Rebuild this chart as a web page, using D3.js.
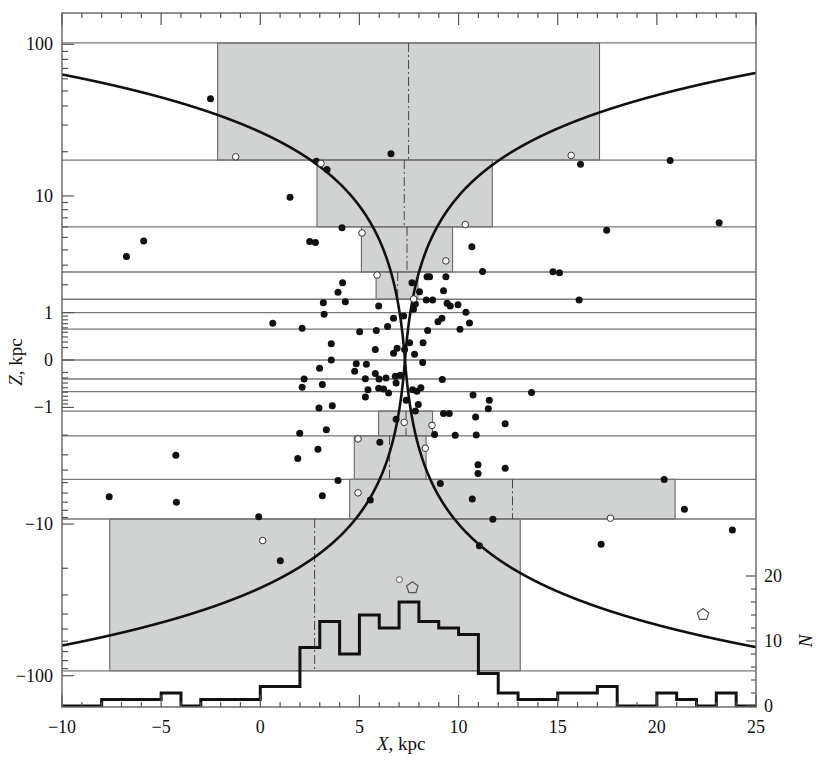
<!DOCTYPE html>
<html><head><meta charset="utf-8">
<script src="https://cdn.jsdelivr.net/npm/d3@7"></script>
<style>body{margin:0;background:#fff} svg text{font-family:"Liberation Serif","DejaVu Serif","Times New Roman",serif;fill:#111}</style>
</head><body><svg id="c" width="817" height="764" font-family="Liberation Serif, DejaVu Serif, serif"></svg>
<script>
// ---- data ----
const bandEdges = [102, 17.6, 6.0, 2.62, 1.43, 1.0, 0.57, 0, -0.32, -0.59, -1.11, -2.03, -4.72, -9.22, -93];
const grayTop    = [102, 17.6, 6.0, 2.62, -1.11, -2.03, -4.72, -9.22];
const grayBottom = [17.6, 6.0, 2.62, 1.43, -2.03, -4.72, -9.22, -93];
const grayX0     = [-2.15, 2.86, 5.10, 5.84, 5.97, 4.74, 4.51, -7.59];
const grayX1     = [17.11, 11.70, 9.70, 7.95, 8.69, 8.36, 20.92, 13.11];
const grayMid    = [7.48, 7.26, 7.40, 6.93, 7.35, 6.52, 12.72, 2.74];

const filledX = [-2.51,2.83,3.37,6.59,16.15,20.67,1.50,4.12,17.47,23.14,-5.88,-6.75,2.49,2.78,10.67,11.21,14.76,15.09,16.08,4.15,3.92,4.29,3.18,5.97,3.22,6.72,7.23,7.73,7.65,0.63,2.11,6.42,5.01,5.85,3.58,5.80,6.72,6.90,7.28,7.53,3.58,2.99,4.84,5.35,4.76,2.21,2.11,3.13,5.30,5.80,5.99,6.34,6.81,7.06,6.85,5.43,5.97,6.22,6.47,5.30,2.96,3.63,7.36,7.82,6.85,1.99,3.33,6.03,-4.26,2.91,1.89,3.92,-7.62,-4.23,3.13,5.55,-0.08,1.01,11.73,11.05,21.39,17.19,23.81,8.41,8.54,9.36,8.03,9.24,8.37,8.69,7.82,9.42,9.58,9.97,10.37,9.16,8.96,10.55,10.07,8.44,8.21,7.78,8.19,9.18,7.68,7.90,8.10,10.73,13.68,11.55,7.97,11.50,9.24,9.53,10.86,12.35,8.79,9.83,10.89,10.98,10.98,12.35,20.37,9.08,10.69];
const filledZ = [44.6,17.3,15.2,19.4,16.5,17.5,9.8,5.9,5.67,6.45,4.70,3.54,4.65,4.57,4.23,2.65,2.63,2.58,1.40,2.09,1.69,1.34,1.31,1.20,0.95,0.84,0.905,1.10,2.09,0.71,0.59,0.63,0.51,0.54,0.27,0.165,0.104,0.188,0.165,0.285,0.0,-0.127,-0.057,-0.065,-0.18,-0.32,-0.49,-0.43,-0.315,-0.22,-0.32,-0.30,-0.27,-0.25,-0.40,-0.545,-0.51,-0.53,-0.62,-0.72,-1.02,-0.95,-0.80,-1.11,-1.38,-1.92,-1.77,-2.33,-3.02,-2.68,-3.22,-4.82,-6.38,-7.01,-6.28,-6.75,-8.9,-17.8,-9.27,-14.1,-7.87,-13.8,-11.0,2.38,2.38,2.38,1.71,1.75,1.40,1.40,1.27,1.29,1.20,1.24,1.01,0.84,0.75,0.72,0.57,0.54,0.285,0.089,-0.036,-0.33,-0.545,-0.58,-0.50,-0.67,-0.61,-0.80,-0.92,-1.04,-1.19,-1.19,-1.30,-1.54,-1.97,-2.0,-1.99,-3.63,-4.25,-3.86,-4.73,-5.08,-6.64];

const openX = [-1.24,3.06,15.68,5.13,10.34,9.36,5.89,7.26,4.93,4.93,0.12,17.66,7.73,8.66,8.32];
const openZ = [18.5,16.7,18.9,5.4,6.24,3.26,2.46,-1.49,-2.17,-5.97,-13.0,-9.1,1.44,-1.60,-2.63];

const smallOpenX = [7.02];
const smallOpenZ = [-23.8];
const pentX = [7.67, 22.33];
const pentZ = [-26.9, -40.3];

const histStart = [-10,-9,-8,-7,-6,-5,-4,-3,-2,-1,0,1,2,3,4,5,6,7,8,9,10,11,12,13,14,15,16,17,18,19,20,21,22,23,24];
const histN     = [0,0,1,1,1,2,0,1,1,1,3,3,9,13,8,14,12,16,13,12,11,5,2,1,1,2,2,3,0,0,2,1,0,2,0];

// straight boundary lines Z = ±k(X - X0), given by their end points
const lineAX = [-10, 25], lineAZ = [64.0, -65.5];
const lineBX = [-10, 25], lineBZ = [-64.0, 65.5];

const xTickLabels = [-10,-5,0,5,10,15,20,25];
const zTickLabels = [100,10,1,0,-1,-10,-100];
const nTickLabels = [0,10,20];

// ---- scales ----
const L = 62, R = 756, T = 13, B = 707;
const x = d3.scaleLinear().domain([-10, 25]).range([L, R]);
const y = d3.scaleSymlog().constant(1).domain([-158.6, 158.6]).range([B, T]);
const yN = d3.scaleLinear().domain([0, 10]).range([706, 641]);

const svg = d3.select("#c");
const FONT = "Liberation Serif, DejaVu Serif, serif";
svg.append("defs").append("clipPath").attr("id","clip")
  .append("rect").attr("x",L).attr("y",T).attr("width",R-L).attr("height",B-T);
const g = svg.append("g").attr("clip-path","url(#clip)");

// gray rectangles
const grays = grayTop.map((t,i)=>({t, b:grayBottom[i], x0:grayX0[i], x1:grayX1[i], m:grayMid[i]}));
g.selectAll("rect.gray").data(grays).join("rect")
  .attr("x", d=>x(d.x0)).attr("y", d=>y(d.t))
  .attr("width", d=>x(d.x1)-x(d.x0)).attr("height", d=>y(d.b)-y(d.t))
  .attr("fill","#d1d2d2").attr("stroke","#5a5a5a").attr("stroke-width",1);

// band lines
g.selectAll("line.band").data(bandEdges).join("line")
  .attr("x1",L).attr("x2",R).attr("y1",d=>y(d)).attr("y2",d=>y(d))
  .attr("stroke","#777").attr("stroke-width",1.3);

// dash-dot mid lines
g.selectAll("line.mid").data(grays).join("line")
  .attr("x1",d=>x(d.m)).attr("x2",d=>x(d.m)).attr("y1",d=>y(d.t)).attr("y2",d=>y(d.b))
  .attr("stroke","#444").attr("stroke-width",1).attr("stroke-dasharray","9,3,2,3");

// boundary curves
function sampleLine(xs, zs){
  const n = 3000, ix = d3.interpolateNumber(xs[0], xs[1]), iz = d3.interpolateNumber(zs[0], zs[1]);
  return d3.range(n+1).map(i=>[ix(i/n), iz(i/n)]);
}
const lineGen = d3.line().x(d=>x(d[0])).y(d=>y(d[1]));
[[lineAX,lineAZ],[lineBX,lineBZ]].forEach(([xs,zs])=>{
  g.append("path").attr("d", lineGen(sampleLine(xs,zs)))
   .attr("fill","none").attr("stroke","#111").attr("stroke-width",2.6);
});

// histogram
const histPts = histStart.map((s,i)=>[s, histN[i]]);
histPts.push([25, histN[histN.length-1]]);
g.append("path")
  .attr("d", d3.line().curve(d3.curveStepAfter).x(d=>x(d[0])).y(d=>yN(d[1]))(histPts))
  .attr("fill","none").attr("stroke","#111").attr("stroke-width",3);

// points
g.selectAll("circle.f").data(filledX.map((v,i)=>[v, filledZ[i]])).join("circle")
  .attr("cx",d=>x(d[0])).attr("cy",d=>y(d[1])).attr("r",3.5).attr("fill","#111");
g.selectAll("circle.o").data(openX.map((v,i)=>[v, openZ[i]])).join("circle")
  .attr("cx",d=>x(d[0])).attr("cy",d=>y(d[1])).attr("r",3.3)
  .attr("fill","#fff").attr("stroke","#333").attr("stroke-width",1);
g.selectAll("circle.s").data(smallOpenX.map((v,i)=>[v, smallOpenZ[i]])).join("circle")
  .attr("cx",d=>x(d[0])).attr("cy",d=>y(d[1])).attr("r",3)
  .attr("fill","#fff").attr("stroke","#555").attr("stroke-width",1);
const pentPath = d=>{
  const cx = x(d[0]), cy = y(d[1]), r = 6;
  return "M" + d3.range(5).map(k=>{const a = -Math.PI/2 + k*2*Math.PI/5; return [cx + r*Math.cos(a), cy + r*Math.sin(a)];}).join("L") + "Z";
};
g.selectAll("path.p").data(pentX.map((v,i)=>[v, pentZ[i]])).join("path")
  .attr("d", pentPath).attr("fill","none").attr("stroke","#555").attr("stroke-width",1.2);

// frame
svg.append("rect").attr("x",L).attr("y",T).attr("width",R-L).attr("height",B-T)
  .attr("fill","none").attr("stroke","#6d6d6d").attr("stroke-width",1.5);

// x ticks (top & bottom, inward)
const tk = svg.append("g").attr("stroke","#555").attr("stroke-width",1.2);
d3.range(-10, 26).forEach(v=>{
  const len = v % 5 === 0 ? 12 : 5;
  tk.append("line").attr("x1",x(v)).attr("x2",x(v)).attr("y1",B).attr("y2",B-len);
  tk.append("line").attr("x1",x(v)).attr("x2",x(v)).attr("y1",T).attr("y2",T+len);
});
// z ticks
const minorZ = [];
[0.1,1,10].forEach(dec=>{ for(let m=2;m<=9;m++){ minorZ.push(m*dec); minorZ.push(-m*dec);} });
minorZ.forEach(v=>tk.append("line").attr("x1",L).attr("x2",L+6).attr("y1",y(v)).attr("y2",y(v)));
zTickLabels.forEach(v=>tk.append("line").attr("x1",L).attr("x2",L+12).attr("y1",y(v)).attr("y2",y(v)));
// N ticks
d3.range(0, 21, 2).forEach(v=>{
  const len = v % 10 === 0 ? 10 : 5;
  tk.append("line").attr("x1",R).attr("x2",R-len).attr("y1",yN(v)).attr("y2",yN(v));
});

// tick labels
const fs = 18;
svg.selectAll("text.xl").data(xTickLabels).join("text")
  .attr("font-family",FONT)
  .attr("x",d=>x(d)).attr("y",733).attr("text-anchor","middle").attr("font-size",fs)
  .text(d=>d<0 ? "\u2212"+Math.abs(d) : d);
svg.selectAll("text.zl").data(zTickLabels).join("text")
  .attr("font-family",FONT)
  .attr("x",53).attr("y",d=>y(d)+6).attr("text-anchor","end").attr("font-size",fs)
  .text(d=>d<0 ? "\u2212"+Math.abs(d) : d);
svg.selectAll("text.nl").data(nTickLabels).join("text")
  .attr("font-family",FONT)
  .attr("x",764).attr("y",d=>yN(d)+6).attr("text-anchor","start").attr("font-size",fs)
  .text(d=>d);

// axis titles
const xt = svg.append("text").attr("font-family",FONT).attr("x",377).attr("y",750).attr("font-size",19);
xt.append("tspan").attr("font-style","italic").text("X");
xt.append("tspan").text(", kpc");
const zt = svg.append("text").attr("font-family",FONT).attr("transform","translate(22,362) rotate(-90)")
  .attr("text-anchor","middle").attr("font-size",19);
zt.append("tspan").attr("font-style","italic").text("Z");
zt.append("tspan").text(", kpc");
svg.append("text").attr("font-family",FONT).attr("transform","translate(812,641) rotate(-90)")
  .attr("text-anchor","middle").attr("font-size",19).attr("font-style","italic").text("N");
</script></body></html>
